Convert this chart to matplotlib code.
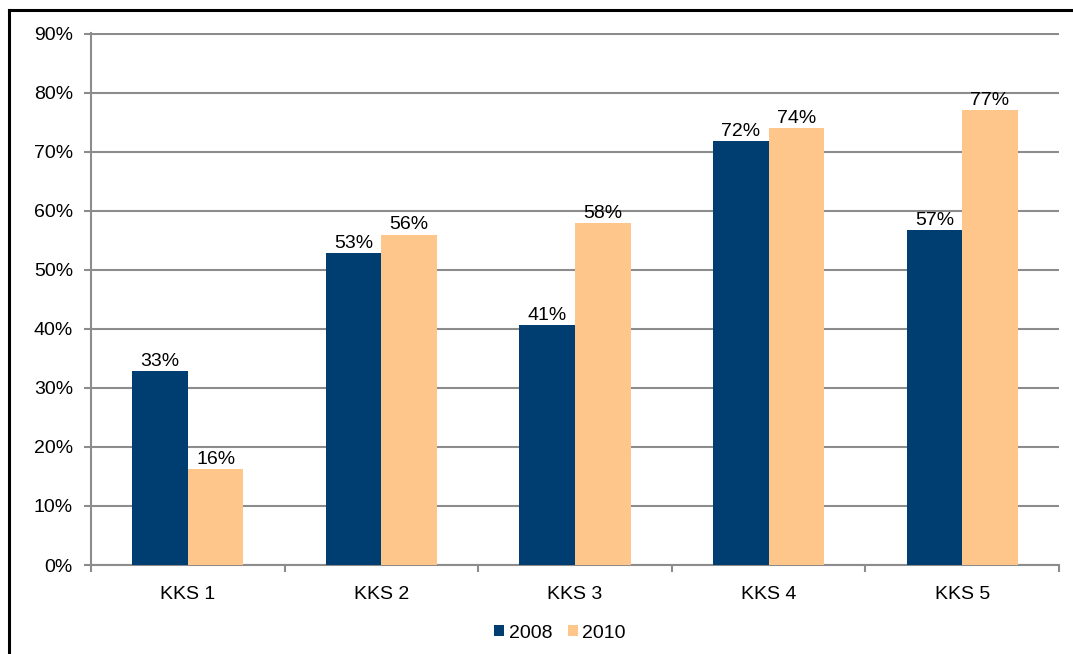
import matplotlib
matplotlib.use("Agg")
import matplotlib.pyplot as plt
from matplotlib.lines import Line2D
from matplotlib.patches import Patch
import numpy as np

categories = ["KKS 1", "KKS 2", "KKS 3", "KKS 4", "KKS 5"]
series_names = ["2008", "2010"]
values_2008 = [32.9, 52.9, 40.7, 71.8, 56.7]
values_2010 = [16.3, 56.0, 57.9, 74.1, 77.1]
y_ticks = [0, 10, 20, 30, 40, 50, 60, 70, 80, 90]

c2008 = "#003E71"
c2010 = "#FFC68C"
grid_c = "#8C8C8C"

plt.rcParams["font.family"] = ["Liberation Sans", "DejaVu Sans"]

fig = plt.figure(figsize=(10.73, 6.54), dpi=100)
ax = fig.add_axes([91/1073, 1-565/654, (1059-91)/1073, (565-33)/654])

x = np.arange(len(categories))
w = 0.287
b1 = ax.bar(x - w/2, values_2008, w, color=c2008, zorder=3)
b2 = ax.bar(x + w/2, values_2010, w, color=c2010, zorder=3)

for bars, vals in ((b1, values_2008), (b2, values_2010)):
    for r, v in zip(bars, vals):
        ax.text(r.get_x() + r.get_width()/2, v + 0.2, f"{round(v):d}%",
                ha="center", va="bottom", fontsize=14, color="black", zorder=4)

ax.set_xlim(-0.5, len(categories) - 0.5)
ax.set_ylim(0, 90.15)
ax.set_yticks(y_ticks)
ax.set_yticklabels([f"{t}%" for t in y_ticks])
ax.yaxis.grid(True, color=grid_c, linewidth=1.5, zorder=0)
ax.set_axisbelow(True)

ax.set_xticks(x)
ax.set_xticklabels(categories)
ax.set_xticks(np.arange(-0.5, len(categories)), minor=True)
ax.tick_params(axis="x", which="major", length=0, pad=15, labelsize=14)
ax.tick_params(axis="x", which="minor", length=5, width=1.5, color=grid_c, direction="out")
ax.tick_params(axis="y", length=5, width=1.5, color=grid_c, pad=8, labelsize=14)

for s in ("top", "right"):
    ax.spines[s].set_visible(False)
for s in ("left", "bottom"):
    ax.spines[s].set_color(grid_c)
    ax.spines[s].set_linewidth(1.5)

handles = [Patch(facecolor=c2008, edgecolor="none"), Patch(facecolor=c2010, edgecolor="none")]
fig.legend(handles, series_names, loc="center", bbox_to_anchor=(0.522, 0.032),
           ncol=2, frameon=False, fontsize=14, handlelength=0.5, handleheight=0.5,
           handletextpad=0.25, columnspacing=0.8)

# outer frame (top and left visible)
fig.add_artist(Line2D([9/1073, 1.0], [1-10/654, 1-10/654], color="black", linewidth=2.2,
                      transform=fig.transFigure))
fig.add_artist(Line2D([9/1073, 9/1073], [0.0, 1-10/654], color="black", linewidth=2.2,
                      transform=fig.transFigure))

fig.savefig("out.png", dpi=100, facecolor="white")
